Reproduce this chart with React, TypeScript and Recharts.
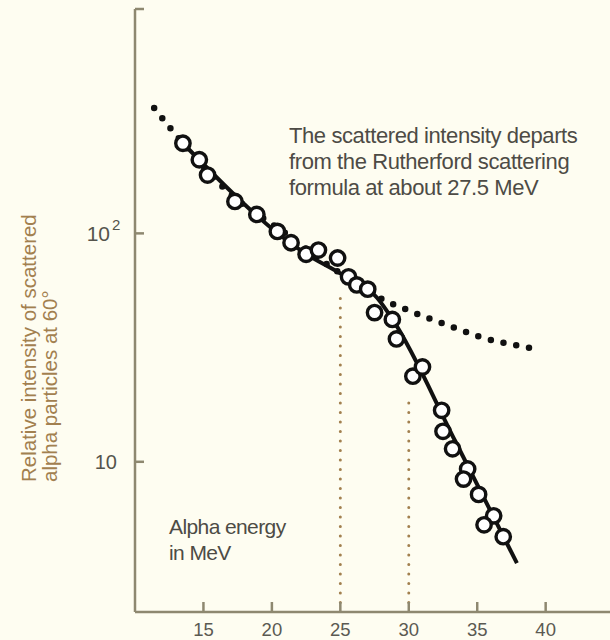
import React from 'react';
import { ComposedChart, Line, Scatter, XAxis, YAxis } from 'recharts';

// ---------------------------------------------------------------------------
// Data
// ---------------------------------------------------------------------------

// measured points (alpha energy in MeV, relative intensity)
const ENERGY = [13.5, 14.7, 15.3, 17.3, 18.9, 20.4, 21.4, 22.5, 23.4, 24.8, 25.6, 26.2, 27.0, 27.5, 28.8, 29.1, 30.3, 31.0, 32.4, 32.5, 33.2, 34.3, 34.0, 35.1, 36.2, 35.5, 36.9];
const INTENSITY = [248, 210, 180, 138, 121, 102, 91, 81, 84.5, 78, 64.5, 59.5, 57, 45, 42, 34.5, 23.7, 26, 16.8, 13.6, 11.4, 9.3, 8.4, 7.2, 5.8, 5.3, 4.7];

// solid curve through the data
const FIT_E = [13.5, 22.4, 25.2, 27.7, 28.85, 33.4, 37.9];
const FIT_I = [248, 82, 65.6, 52.1, 41.7, 12.3, 3.6];

// dotted Rutherford formula curve
const RUTH_E = [11.4, 12.7, 17.0, 21.0, 24.5, 28.5, 29.6, 31.0, 33.2, 35.1, 38.9];
const RUTH_I = [354, 283, 148, 100, 70, 50, 47, 43.5, 38.9, 35.4, 31.5];

// dotted drop lines
const DROP_E = [25, 30];
const DROP_TOP = [52.6, 18.1];

const X_TICKS = [15, 20, 25, 30, 35, 40];
const Y_TICKS = [10, 100, 960];
const X_DOMAIN = [10, 44.7];
const Y_DOMAIN = [2.2, 960];

// ---------------------------------------------------------------------------

const BG = '#fefdf1';
const AXIS = '#8e8870';
const INK = '#111';
const TEXT = '#4d4b45';
const TAN = '#a2804f';
const FONT = '"Liberation Sans", Arial, sans-serif';

const points = ENERGY.map((x, i) => ({ x, y: INTENSITY[i] }));
const fit = FIT_E.map((x, i) => ({ x, y: FIT_I[i] }));
const ruth = RUTH_E.map((x, i) => ({ x, y: RUTH_I[i] }));
const drops = DROP_E.map((x, i) => [
  { x, y: Y_DOMAIN[0] },
  { x, y: DROP_TOP[i] },
]);

const XTick = (props: any) => {
  const { x, y, payload } = props;
  return (
    <g>
      <line x1={x} x2={x} y1={y} y2={y - 10} stroke={AXIS} strokeWidth={2.5} />
      <text x={x} y={y + 24} textAnchor="middle" fontSize={18.5} fontFamily={FONT} fill="#5b5a52">
        {payload.value}
      </text>
    </g>
  );
};

const YTick = (props: any) => {
  const { x, y, payload } = props;
  const v = payload.value;
  return (
    <g>
      <line x1={x} x2={x + 9} y1={y} y2={y} stroke={AXIS} strokeWidth={2.5} />
      {v === 100 && (
        <>
          <text x={x - 25} y={y + 8} textAnchor="end" fontSize={21} fontFamily={FONT} fill="#55544c">10</text>
          <text x={x - 23} y={y - 3} textAnchor="start" fontSize={15} fontFamily={FONT} fill="#55544c">2</text>
        </>
      )}
      {v === 10 && (
        <text x={x - 18} y={y + 7} textAnchor="end" fontSize={20} fontFamily={FONT} fill="#55544c">10</text>
      )}
    </g>
  );
};

export default function App() {
  return (
    <div style={{ position: 'absolute', left: 0, top: 0, width: 610, height: 640, background: BG, overflow: 'hidden' }}>
      <ComposedChart width={610} height={640} margin={{ top: 9, right: 0, left: 0, bottom: 0 }}>
        <XAxis
          dataKey="x"
          type="number"
          domain={X_DOMAIN}
          ticks={X_TICKS}
          interval={0}
          height={28}
          tickSize={0}
          tickMargin={0}
          tickLine={false}
          axisLine={{ stroke: AXIS, strokeWidth: 2.5 }}
          tick={<XTick />}
          allowDataOverflow
        />
        <YAxis
          dataKey="y"
          type="number"
          scale="log"
          domain={Y_DOMAIN}
          ticks={Y_TICKS}
          interval={0}
          width={135}
          tickSize={0}
          tickMargin={0}
          tickLine={false}
          axisLine={{ stroke: AXIS, strokeWidth: 2.5 }}
          tick={<YTick />}
          allowDataOverflow
        />
        {drops.map((d, i) => (
          <Line
            key={i}
            data={d}
            dataKey="y"
            type="linear"
            stroke={TAN}
            strokeWidth={3}
            strokeDasharray="0 9.5"
            strokeLinecap="round"
            dot={false}
            isAnimationActive={false}
          />
        ))}
        <Line
          data={ruth}
          dataKey="y"
          type="monotone"
          stroke={INK}
          strokeWidth={6.5}
          strokeDasharray="0 13"
          strokeLinecap="round"
          dot={false}
          isAnimationActive={false}
        />
        <Line
          data={fit}
          dataKey="y"
          type="monotone"
          stroke={INK}
          strokeWidth={4}
          dot={false}
          isAnimationActive={false}
        />
        <Scatter
          data={points}
          dataKey="y"
          isAnimationActive={false}
          shape={(p: any) => <circle cx={p.cx} cy={p.cy} r={7.2} fill="#fff" stroke={INK} strokeWidth={3.4} />}
        />
      </ComposedChart>

      <svg width={610} height={640} style={{ position: 'absolute', left: 0, top: 0, pointerEvents: 'none' }}>
        <g fontFamily={FONT}>
          <text transform="translate(36,482) rotate(-90)" fontSize={20.5} fill={TAN}>
            Relative intensity of scattered
          </text>
          <text transform="translate(56.5,482) rotate(-90)" fontSize={20.5} fill={TAN}>
            alpha particles at 60°
          </text>
          <g fontSize={22} fill={TEXT} letterSpacing={-0.4}>
            <text x={289} y={143}>The scattered intensity departs</text>
            <text x={289} y={169}>from the Rutherford scattering</text>
            <text x={289} y={195}>formula at about 27.5 MeV</text>
          </g>
          <g fontSize={21} fill={TEXT} letterSpacing={-0.6}>
            <text x={169} y={534}>Alpha energy</text>
            <text x={169} y={560}>in MeV</text>
          </g>
        </g>
      </svg>
    </div>
  );
}
